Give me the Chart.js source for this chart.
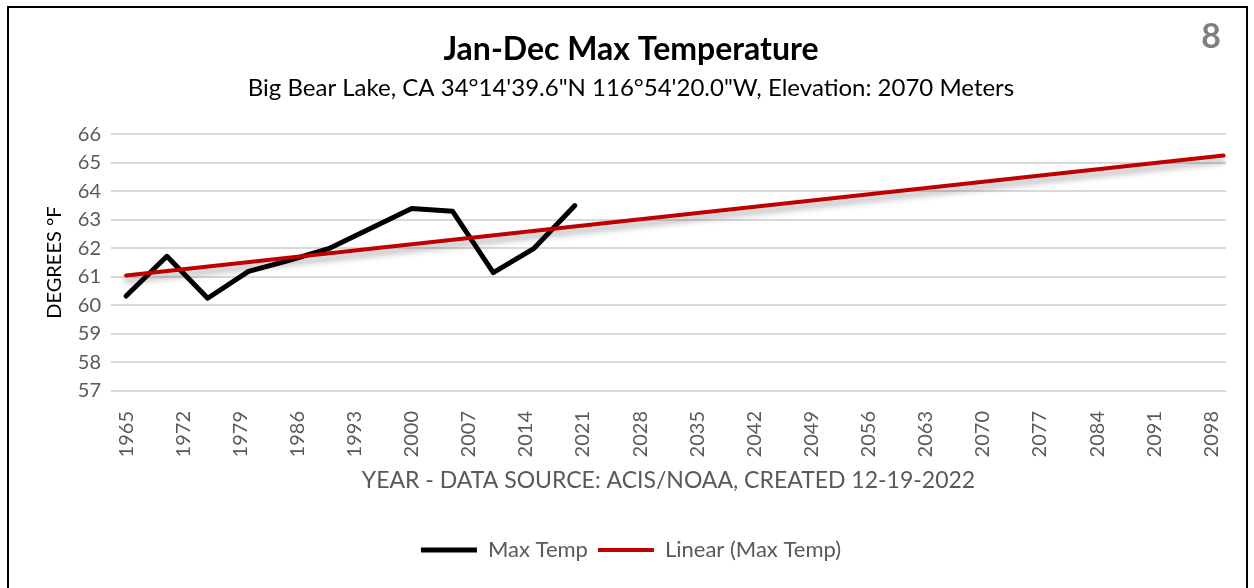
<!DOCTYPE html>
<html lang="en">
<head>
<meta charset="UTF-8">
<title>Jan-Dec Max Temperature</title>
<script src="https://cdn.jsdelivr.net/npm/chart.js"></script>
<style>
  html, body { margin: 0; padding: 0; background: #fff; overflow: hidden; }
  #wrap { position: relative; width: 1254px; height: 588px; }
  #frame { position: absolute; left: 7px; top: 6px; width: 1241px; height: 600px; border: 2px solid #000; box-sizing: border-box; }
  #page { position: absolute; right: 33px; top: 14px; font: bold 34px Lato, sans-serif; color: #7f7f7f; }
  canvas { position: absolute; left: 0; top: 0; }
</style>
</head>
<body>
<div id="wrap">
  <div id="frame"></div>
  <canvas id="myChart" width="1254" height="588"></canvas>
  <div id="page">8</div>
</div>
<script>
// Données
const years = [1965, 1970, 1975, 1980, 1985, 1990, 1995, 2000, 2005, 2010, 2015, 2020];
const maxTemp = [60.33, 61.72, 60.25, 61.19, 61.58, 62.01, 62.70, 63.40, 63.30, 61.15, 62.00, 63.50];
const trendYears = [1965, 2099.5];
const trendTemp = [61.05, 65.25];
const yearTicks = [1965, 1972, 1979, 1986, 1993, 2000, 2007, 2014, 2021, 2028, 2035, 2042, 2049, 2056, 2063, 2070, 2077, 2084, 2091, 2098];
const tempTicks = [57, 58, 59, 60, 61, 62, 63, 64, 65, 66];

const grey = '#595959';
const font = 'Lato, sans-serif';

// ombre sous la tendance
const shadowPlugin = {
    id: 'trendShadow',
    beforeDatasetDraw(chart, args) {
        if (args.index !== 1) return;
        const ctx = chart.ctx;
        ctx.save();
        ctx.shadowColor = 'rgba(0,0,0,0.35)';
        ctx.shadowBlur = 6;
        ctx.shadowOffsetY = 5;
    },
    afterDatasetDraw(chart, args) {
        if (args.index !== 1) return;
        chart.ctx.restore();
    }
};

const config = {
    type: 'line',
    data: {
        datasets: [{
            label: 'Max Temp',
            data: years.map((y, i) => ({ x: y, y: maxTemp[i] })),
            borderColor: '#000000',
            backgroundColor: '#000000',
            borderWidth: 5,
            pointRadius: 0,
            borderCapStyle: 'round',
            borderJoinStyle: 'round',
            order: 1
        }, {
            label: 'Linear (Max Temp)',
            data: trendYears.map((y, i) => ({ x: y, y: trendTemp[i] })),
            borderColor: '#c00000',
            backgroundColor: '#c00000',
            borderWidth: 4,
            pointRadius: 0,
            borderCapStyle: 'round',
            order: 0
        }]
    },
    options: {
        responsive: false,
        animation: false,
        layout: { padding: { top: 0, right: 28, bottom: 17, left: 36 } },
        plugins: {
            title: {
                display: true,
                text: 'Jan-Dec Max Temperature',
                color: '#000',
                font: { family: font, size: 32, weight: 'bold' },
                padding: { top: 30, bottom: 0 }
            },
            subtitle: {
                display: true,
                text: 'Big Bear Lake, CA 34°14\'39.6"N 116°54\'20.0"W, Elevation: 2070 Meters',
                color: '#000',
                font: { family: font, size: 24 },
                padding: { top: 5, bottom: 32 }
            },
            legend: {
                position: 'bottom',
                labels: {
                    usePointStyle: true,
                    pointStyle: 'line',
                    pointStyleWidth: 56,
                    boxHeight: 20,
                    color: grey,
                    font: { family: font, size: 22 },
                    padding: 10,
                    sort: (a, b) => a.datasetIndex - b.datasetIndex
                }
            },
            tooltip: { enabled: false }
        },
        scales: {
            x: {
                type: 'linear',
                min: 1963.15,
                max: 2099.8,
                afterBuildTicks: (scale) => { scale.ticks = yearTicks.map(v => ({ value: v })); },
                afterFit: (scale) => { scale.height = 138; },
                grid: { display: false },
                border: { display: false },
                ticks: {
                    color: grey,
                    font: { family: font, size: 20 },
                    minRotation: 90,
                    maxRotation: 90,
                    padding: 12,
                    callback: (v) => String(v)
                },
                title: {
                    display: true,
                    text: 'YEAR - DATA SOURCE: ACIS/NOAA, CREATED 12-19-2022',
                    color: grey,
                    font: { family: font, size: 23 },
                    padding: { top: 0, bottom: 35 }
                }
            },
            y: {
                min: 57,
                max: 66,
                afterBuildTicks: (scale) => { scale.ticks = tempTicks.map(v => ({ value: v })); },
                afterFit: (scale) => { scale.width = 75; },
                grid: { color: '#d9d9d9', lineWidth: 2, drawTicks: false },
                border: { display: false },
                ticks: {
                    color: grey,
                    font: { family: font, size: 20 },
                    padding: 10
                },
                title: {
                    display: true,
                    text: 'DEGREES °F',
                    color: '#000',
                    font: { family: font, size: 20 },
                    padding: { top: 7, bottom: 0 }
                }
            }
        }
    },
    plugins: [shadowPlugin]
};

new Chart(document.getElementById('myChart').getContext('2d'), config);
</script>
</body>
</html>
